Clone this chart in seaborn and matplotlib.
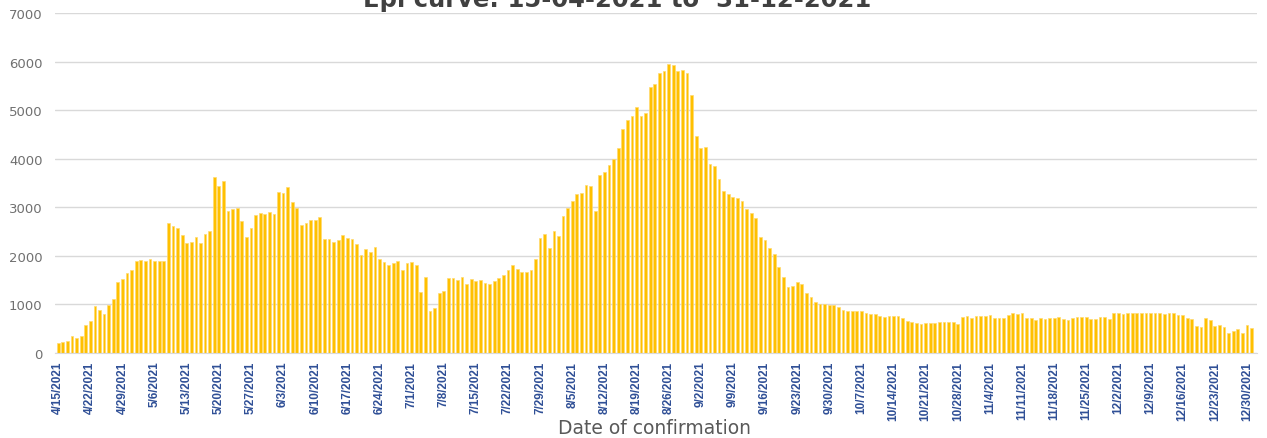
import matplotlib
matplotlib.use('Agg')
import matplotlib.pyplot as plt
import seaborn as sns
import numpy as np
import pandas as pd

# daily confirmed cases, 15-04-2021 .. 31-12-2021, one list per month
apr_cases = [213, 227, 247, 350, 302, 357, 570, 660, 969, 887, 797, 990, 1113, 1464, 1526, 1650]
may_cases = [1704, 1890, 1917, 1904, 1931, 1890, 1904, 1890, 2673, 2619, 2564, 2433, 2261, 2289, 2385,
             2275, 2454, 2515, 3622, 3443, 3546, 2914, 2962, 2976, 2722, 2378, 2577, 2838, 2880, 2852, 2907]
jun_cases = [2866, 3306, 3292, 3409, 3107, 2976, 2639, 2680, 2735, 2735, 2790, 2351, 2351, 2289, 2330,
             2433, 2371, 2344, 2247, 2021, 2131, 2082, 2192, 1945, 1876, 1821, 1863, 1890, 1711, 1863]
jul_cases = [1876, 1821, 1258, 1574, 859, 928, 1244, 1271, 1540, 1546, 1505, 1560, 1416, 1533, 1485,
             1505, 1443, 1416, 1478, 1546, 1601, 1718, 1808, 1732, 1663, 1663, 1704, 1931, 2364, 2454, 2165]
aug_cases = [2515, 2412, 2825, 2990, 3120, 3265, 3292, 3450, 3443, 2921, 3670, 3718, 3869, 3993, 4213,
             4612, 4794, 4887, 5055, 4880, 4941, 5484, 5546, 5766, 5800, 5951, 5937, 5800, 5820, 5758, 5319]
sep_cases = [4461, 4228, 4235, 3885, 3850, 3576, 3329, 3274, 3205, 3192, 3137, 2972, 2883, 2773, 2389,
             2334, 2155, 2038, 1778, 1558, 1359, 1386, 1462, 1421, 1235, 1146, 1050, 1002, 1002, 981]
oct_cases = [988, 947, 892, 872, 866, 859, 859, 818, 797, 797, 756, 742, 756, 756, 756,
             722, 660, 646, 619, 605, 619, 619, 619, 632, 632, 632, 632, 605, 742, 756, 729]
nov_cases = [756, 770, 770, 784, 722, 722, 722, 784, 818, 797, 818, 715, 715, 687, 722,
             708, 722, 722, 735, 708, 680, 722, 735, 735, 735, 708, 708, 735, 735, 708]
dec_cases = [832, 818, 797, 818, 818, 832, 818, 832, 818, 832, 832, 797, 818, 832, 784,
             777, 722, 708, 564, 536, 722, 680, 564, 570, 536, 405, 460, 488, 419, 577, 515]

start_date = '2021-04-15'
end_date = '2021-12-31'
title = 'Epi curve: 15-04-2021 to  31-12-2021'

cases = apr_cases + may_cases + jun_cases + jul_cases + aug_cases + sep_cases + oct_cases + nov_cases + dec_cases
dates = pd.date_range(start_date, end_date, freq='D')
labels = [f'{d.month}/{d.day}/{d.year}' for d in dates]
df = pd.DataFrame({'date': labels, 'cases': cases})

sns.set_style('white')
fig = plt.figure(figsize=(12.67, 4.39), dpi=100)
ax = fig.add_axes([55 / 1267, 1 - 354 / 439, 1202 / 1267, 340 / 439])

sns.barplot(data=df, x='date', y='cases', color='#FFC000', saturation=1, width=0.6,
            edgecolor='#FFDA70', linewidth=0.5, ax=ax)

ax.set_ylim(0, 7000)
ax.set_xlim(-0.7, 261.2)
ax.set_yticks(np.arange(0, 7001, 1000))
ax.yaxis.grid(True, color='#D9D9D9', linewidth=1)
ax.set_axisbelow(True)
for s in ['top', 'right', 'left']:
    ax.spines[s].set_visible(False)
ax.spines['bottom'].set_color('#D9D9D9')
ax.tick_params(axis='y', length=0, pad=9, labelsize=9.5, labelcolor='#707070')
ax.set_xlabel('')
ax.set_ylabel('')

# a date label every 7 days, rotated, bold blue
tick_pos = list(range(0, len(labels), 7))
ax.set_xticks(tick_pos)
ax.set_xticklabels([labels[i] for i in tick_pos], rotation=90, fontsize=8.5,
                   fontweight='bold', color='#2F4F96', family='Liberation Sans')
ax.tick_params(axis='x', length=0, pad=5.5)

fig.text(617 / 1267, 1 - 7 / 439, title, ha='center', va='baseline', fontsize=17.5,
         fontweight='bold', color='#404040')
fig.text(654 / 1267, 1 - 434 / 439, 'Date of confirmation', ha='center', va='baseline',
         fontsize=13.5, color='#595959')

fig.savefig('out.png', dpi=100)
